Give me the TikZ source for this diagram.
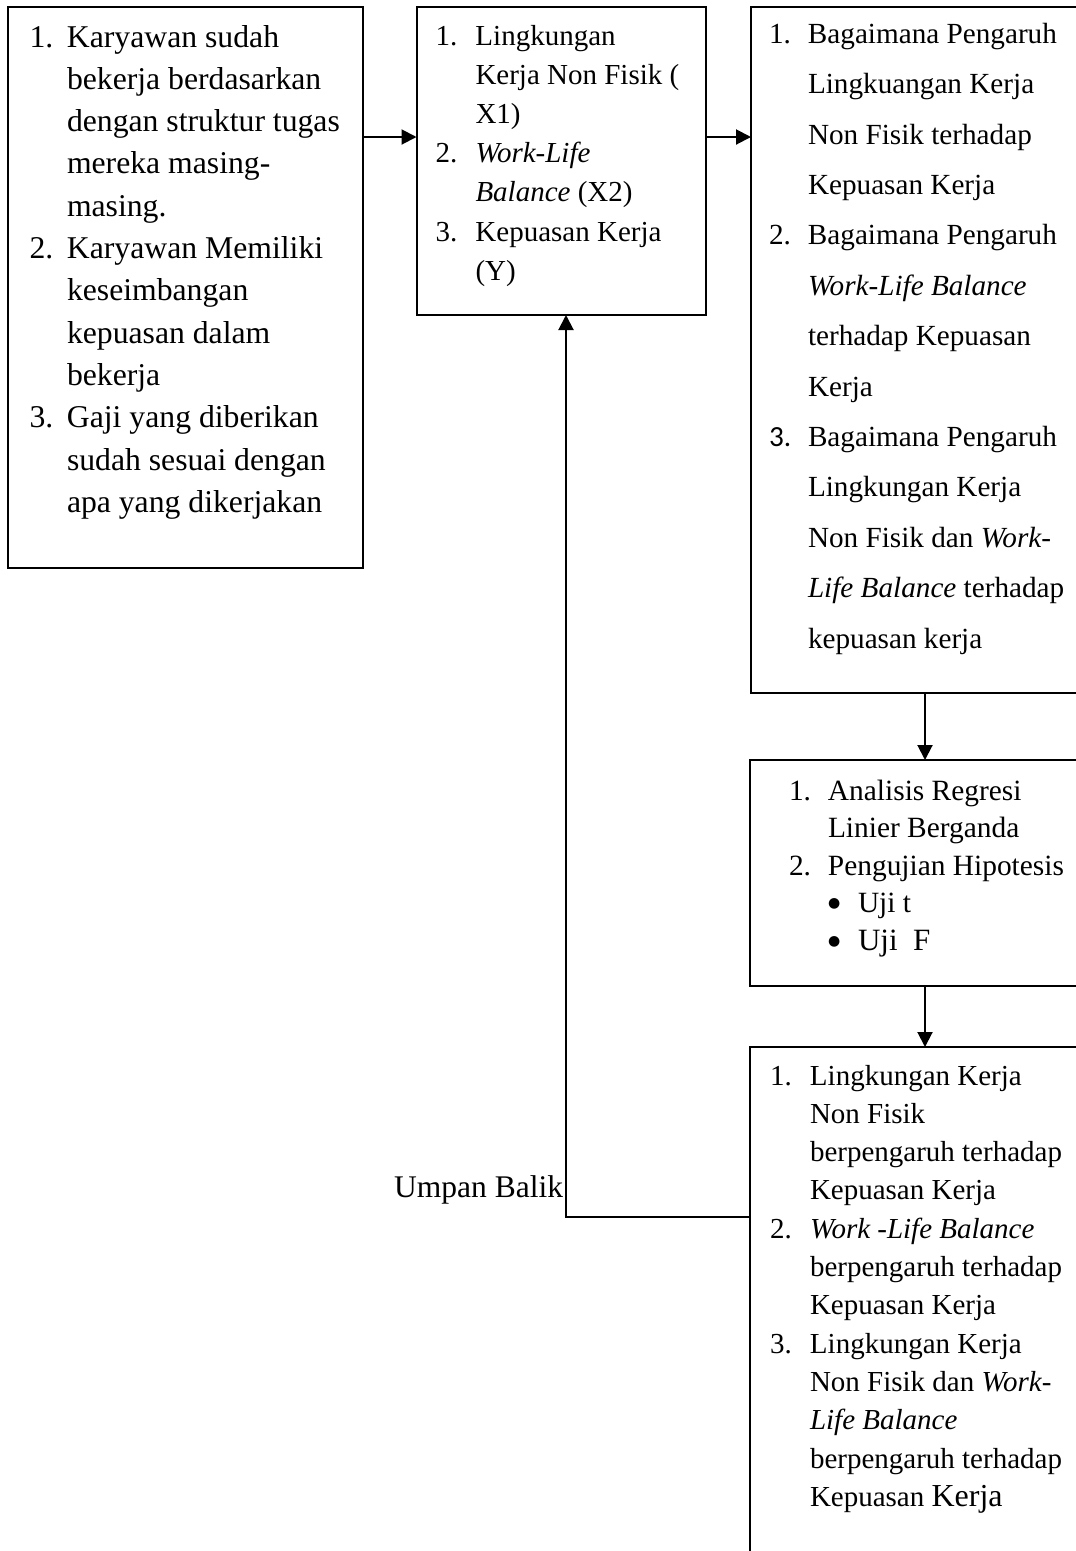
\documentclass[tikz,border=0pt]{standalone}
\usepackage{fontspec}
\setmainfont{Liberation Serif}
\newfontfamily\calib{Carlito}
\newfontfamily\dvs{DejaVu Sans}
\usetikzlibrary{arrows.meta,calc}
% box content: #1 width, #2 height, #3 first baseline from top, #4 line distance, #5 lines
\newcommand{\bxt}[5]{\hbox to #1{\vbox to #2{\vskip\dimexpr #3-#4\relax\prevdepth=0pt
  \baselineskip=#4\relax\lineskiplimit=-\maxdimen #5\vss}\hss}}
\newdimen\numx \newdimen\txtx
\newcommand{\NL}[2]{\hbox{\kern\numx\hbox to \dimexpr\txtx-\numx\relax{#1\hss}#2}}
\newcommand{\CL}[1]{\hbox{\kern\txtx\relax #1}}
\newcommand{\BL}[1]{\hbox{\kern78pt\hbox to 30pt{\raisebox{5pt}{\dvs\fontsize{14}{14}\selectfont ●}\hss}#1}}
\begin{document}
\begin{tikzpicture}[x=1pt,y=-1pt,
  box/.style={draw, line width=2pt, inner sep=0pt, outer sep=0pt, anchor=north west},
  arr/.style={line width=2pt, -{Triangle[length=15pt,width=15pt]}}]
\useasboundingbox (0,0) rectangle (1076,1551);
\clip (0,0) rectangle (1076,1551);
\fill[white] (0,0) rectangle (1076,1551);

\node[box, font=\fontsize{31.7}{42.3}\selectfont] (A) at (8,7)
 {\bxt{354.5pt}{561pt}{40pt}{42.3pt}{\numx=21.5pt \txtx=59pt
  \NL{1.}{Karyawan sudah}
  \CL{bekerja berdasarkan}
  \CL{dengan struktur tugas}
  \CL{mereka masing-}
  \CL{masing.}
  \NL{2.}{Karyawan Memiliki}
  \CL{keseimbangan}
  \CL{kepuasan dalam}
  \CL{bekerja}
  \NL{3.}{Gaji yang diberikan}
  \CL{sudah sesuai dengan}
  \CL{apa yang dikerjakan}}};

\node[box, font=\fontsize{29}{39.2}\selectfont] (B) at (416.5,7)
 {\bxt{289.5pt}{308pt}{38pt}{39.2pt}{\numx=19pt \txtx=59pt
  \NL{1.}{Lingkungan}
  \CL{Kerja Non Fisik (}
  \CL{X1)}
  \NL{2.}{\textit{Work-Life}}
  \CL{\textit{Balance} (X2)}
  \NL{3.}{Kepuasan Kerja}
  \CL{(Y)}}};

\node[box, font=\fontsize{29.2}{50.4}\selectfont] (C) at (751,7)
 {\bxt{360pt}{685.5pt}{36.3pt}{50.4pt}{\numx=18pt \txtx=57pt
  \NL{1.}{Bagaimana Pengaruh}
  \CL{Lingkuangan Kerja}
  \CL{Non Fisik terhadap}
  \CL{Kepuasan Kerja}
  \NL{2.}{Bagaimana Pengaruh}
  \CL{\textit{Work-Life Balance}}
  \CL{terhadap Kepuasan}
  \CL{Kerja}
  \NL{{\calib 3.}}{Bagaimana Pengaruh}
  \CL{Lingkungan Kerja}
  \CL{Non Fisik dan \textit{Work-}}
  \CL{\textit{Life Balance} terhadap}
  \CL{kepuasan kerja}}};

\node[box, font=\fontsize{29.4}{37.5}\selectfont] (D) at (750,760)
 {\bxt{360pt}{225.5pt}{40pt}{37.5pt}{\numx=39pt \txtx=78pt
  \NL{1.}{Analisis Regresi}
  \CL{Linier Berganda}
  \NL{2.}{Pengujian Hipotesis}
  \BL{Uji t}
  \BL{{\fontsize{31}{31}\selectfont Uji\ \ F}}}};

\node[box, font=\fontsize{29}{38.3}\selectfont] (E) at (750,1047)
 {\bxt{360pt}{600pt}{38pt}{38.3pt}{\numx=20pt \txtx=60pt
  \NL{1.}{Lingkungan Kerja}
  \CL{Non Fisik}
  \CL{berpengaruh terhadap}
  \CL{Kepuasan Kerja}
  \NL{2.}{\textit{Work -Life Balance}}
  \CL{berpengaruh terhadap}
  \CL{Kepuasan Kerja}
  \NL{3.}{Lingkungan Kerja}
  \CL{Non Fisik dan \textit{Work-}}
  \CL{\textit{Life Balance}}
  \CL{berpengaruh terhadap}
  \CL{Kepuasan {\fontsize{32}{32}\selectfont Kerja}}}};

\node[font=\fontsize{31.5}{38}\selectfont, inner sep=0pt, anchor=base west] (UB) at (394,1197) {Umpan Balik};

\coordinate (ab) at (380,137);
\coordinate (cd) at (925,700);
\coordinate (fb) at (566,1217);

\draw[arr] (A.east |- ab) -- (B.west |- ab);
\draw[arr] (B.east |- ab) -- (C.west |- ab);
\draw[arr] (C.south -| cd) -- (D.north -| cd);
\draw[arr] (D.south -| cd) -- (E.north -| cd);
\draw[arr] (E.west |- fb) -- (fb) -- (fb |- B.south);
\end{tikzpicture}
\end{document}
